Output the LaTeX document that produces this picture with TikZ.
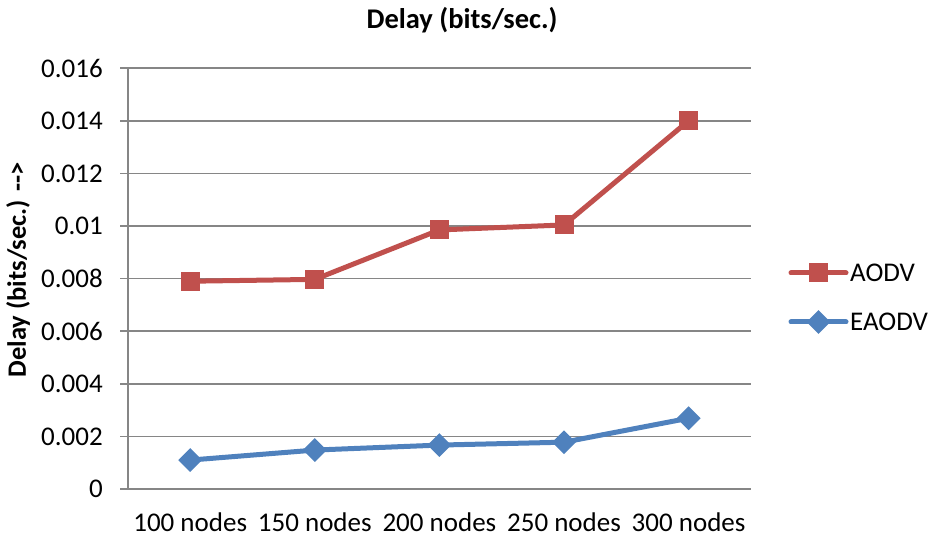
\documentclass[tikz,border=0pt]{standalone}
\usepackage{fontspec}
\setmainfont{Carlito}
\usetikzlibrary{shapes.geometric}
\definecolor{aodvc}{HTML}{C0504D}
\definecolor{eaodvc}{HTML}{4F81BD}
\definecolor{gridc}{HTML}{868686}
\begin{document}
\begin{tikzpicture}[x=1pt,y=-1pt,
  lbl/.style={font=\fontsize{27}{32}\selectfont, inner sep=0pt},
  blbl/.style={font=\fontsize{26.5}{32}\selectfont\bfseries, inner sep=0pt},
  gridline/.style={draw=gridc, line width=1.6pt},
  sqmark/.style={rectangle, fill=aodvc, minimum size=19pt, inner sep=0pt},
  dmmark/.style={diamond, fill=eaodvc, minimum size=24pt, inner sep=0pt},
  aline/.style={draw=aodvc, line width=5pt, line join=round, line cap=round},
  eline/.style={draw=eaodvc, line width=5pt, line join=round, line cap=round}]
\useasboundingbox (0,0) rectangle (929,537);
% grid and tick labels
\foreach \v/\t in {0/0,2/0.002,4/0.004,6/0.006,8/0.008,10/0.01,12/0.012,14/0.014,16/0.016}{
  \draw[gridline] (120,{489-\v*26.3}) -- (751,{489-\v*26.3});
  \node[lbl, anchor=east] (tick\v) at (103,{489-\v*26.3}) {\t};
}
\draw[gridline] (128,68.2) -- (128,489);
% category labels
\foreach \i/\t in {0/100,1/150,2/200,3/250,4/300}{
  \node[lbl] (cat\i) at ({190.2+124.6*\i},522.5) {\t{} nodes};
}
% data coordinates
\foreach \i/\a/\e in {0/7.9/1.10,1/7.97/1.48,2/9.85/1.67,3/10.04/1.78,4/14.0/2.69}{
  \coordinate (a\i) at ({190.2+124.6*\i},{489-\a*26.3});
  \coordinate (e\i) at ({190.2+124.6*\i},{489-\e*26.3});
}
\draw[aline] (a0) -- (a1) -- (a2) -- (a3) -- (a4);
\draw[eline] (e0) -- (e1) -- (e2) -- (e3) -- (e4);
\foreach \i in {0,...,4}{
  \node[sqmark] (am\i) at (a\i) {};
  \node[dmmark] (em\i) at (e\i) {};
}
% legend
\coordinate (la1) at (791,273); \coordinate (la2) at (846,273);
\coordinate (le1) at (791,322); \coordinate (le2) at (846,322);
\draw[aline] (la1) -- (la2);
\draw[eline] (le1) -- (le2);
\node[sqmark] (lam) at (818.5,273) {};
\node[dmmark] (lem) at (818.5,322) {};
\node[lbl, anchor=west] (laodv) at (850,273) {AODV};
\node[lbl, anchor=west] (leaodv) at (850,322) {EAODV};
% titles
\node[blbl, font=\fontsize{28.5}{32}\selectfont\bfseries] (title) at (462,20) {Delay (bits/sec.)};
\node[blbl, rotate=90] (ylab) at (18,270) {Delay (bits/sec.) -{}->};
\end{tikzpicture}
\end{document}
